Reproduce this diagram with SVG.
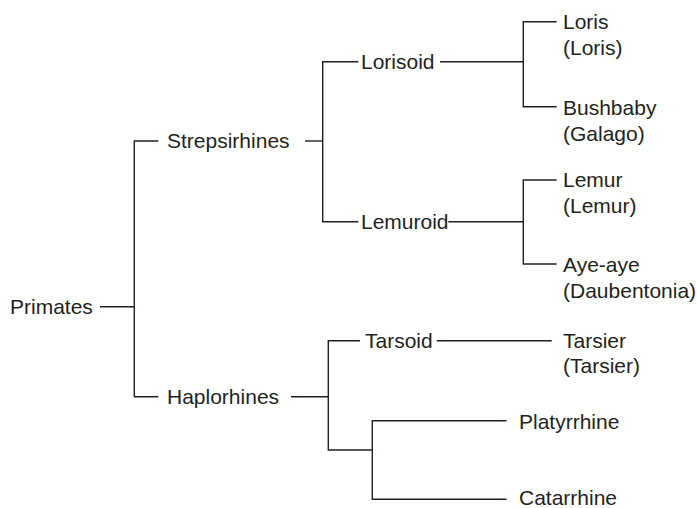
<svg xmlns="http://www.w3.org/2000/svg" width="697" height="508" viewBox="0 0 697 508">
<style>
text{font-family:"Liberation Sans",Arial,sans-serif;font-size:21px;fill:#231f20}
.c path{fill:none;stroke:#231f20;stroke-width:1.4}
</style>
<rect width="697" height="508" fill="#fff"/>
<g class="c" id="connectors">
<path d="M100,306.7H134.3"/>
<path d="M158.3,141H134.3V396.7H158.3"/>
<path d="M305,141H322.7"/>
<path d="M358.3,61.7H322.7V221.7H358.3"/>
<path d="M440,61.7H523.3"/>
<path d="M556.7,21.7H523.3V106.7H556.7"/>
<path d="M448.3,221.7H523.3"/>
<path d="M556.7,180H523.3V264H556.7"/>
<path d="M291,396.7H328.3"/>
<path d="M360,340.7H328.3V450H372.3"/>
<path d="M436.7,340.7H551.7"/>
<path d="M506.5,420.7H372.3V499.3H506.5"/>
</g>
<g id="primates"><text x="10" y="313.5">Primates</text></g>
<g id="strepsirhines"><text x="167" y="148">Strepsirhines</text></g>
<g id="haplorhines"><text x="167" y="404">Haplorhines</text></g>
<g id="lorisoid"><text x="361" y="68.5">Lorisoid</text></g>
<g id="lemuroid"><text x="361" y="228.5">Lemuroid</text></g>
<g id="tarsoid"><text x="365" y="347.5">Tarsoid</text></g>
<g id="loris"><text x="563" y="29">Loris</text><text x="563" y="54.5">(Loris)</text></g>
<g id="bushbaby"><text x="563" y="115">Bushbaby</text><text x="563" y="141">(Galago)</text></g>
<g id="lemur"><text x="563" y="187">Lemur</text><text x="563" y="212.5">(Lemur)</text></g>
<g id="ayeaye"><text x="563" y="272">Aye-aye</text><text x="563" y="298">(Daubentonia)</text></g>
<g id="tarsier"><text x="563" y="347.5">Tarsier</text><text x="563" y="373">(Tarsier)</text></g>
<g id="platyrrhine"><text x="519" y="428.5">Platyrrhine</text></g>
<g id="catarrhine"><text x="519" y="504.5">Catarrhine</text></g>
</svg>
